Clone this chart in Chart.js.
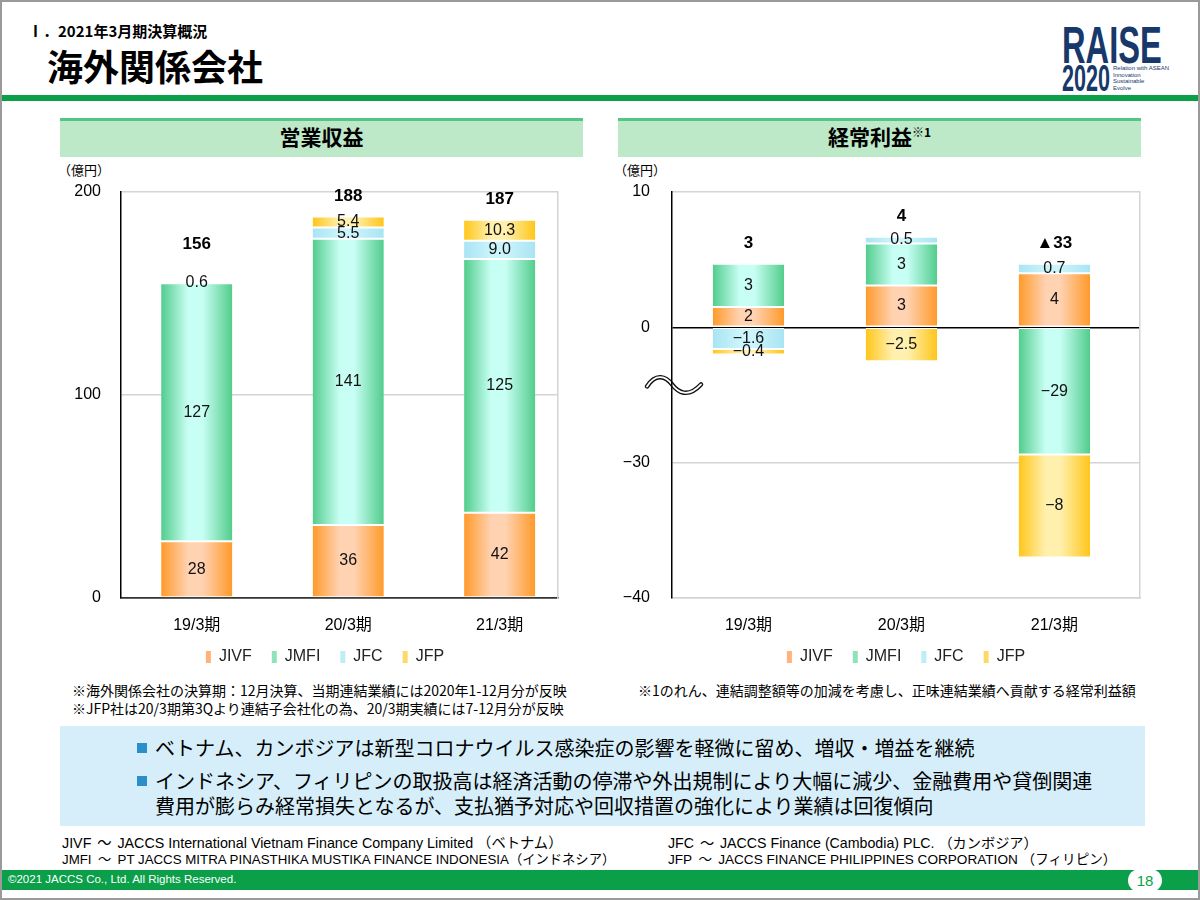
<!DOCTYPE html>
<html lang="ja">
<head>
<meta charset="utf-8">
<script src="https://cdn.jsdelivr.net/npm/chart.js@4.4.1/dist/chart.umd.min.js"></script>
<style>
  body { margin: 0; background: #fff; }
  #slide { position: relative; width: 1200px; height: 900px; overflow: hidden; background: #fff;
           font-family: "Liberation Sans", "Noto Sans CJK JP", sans-serif; color: #000; }
  .t { position: absolute; white-space: nowrap; line-height: 1; }
  .jp { font-family: "Noto Sans CJK JP", sans-serif; }
  #frame { position: absolute; left: 0; top: 0; width: 1200px; height: 900px; box-sizing: border-box;
           border: 2px solid #9a9a9a; pointer-events: none; z-index: 10; }
  .head { position: absolute; top: 118px; width: 523px; height: 36px; background: #bde9c9;
          border-top: 3px solid #53c587; text-align: center; line-height: 36px;
          font: bold 21px "Noto Sans CJK JP", sans-serif; }
  .head sup { font-size: 12px; vertical-align: 8px; line-height: 0; }
  .box { position: absolute; }
  .bul { position: absolute; width: 10px; height: 10px; background: #2a8fc8; left: 137px; }
  .co span { display: inline-block; width: 26px; text-align: center; }
</style>
</head>
<body>
<div id="slide">
  <div class="t jp" style="left:28px;top:23px;font-size:15px;font-weight:bold;">Ⅰ．2021年3月期決算概況</div>
  <div class="t jp" style="left:47px;top:47px;font-size:36px;font-weight:bold;">海外関係会社</div>

  <!-- logo -->
  <div class="t" style="left:1062px;top:20px;font-size:51px;font-weight:bold;color:#17386a;transform:scaleX(0.64);transform-origin:0 0;">RAISE</div>
  <div class="t" style="left:1062px;top:61px;font-size:36px;font-weight:bold;color:#17386a;transform:scaleX(0.6);transform-origin:0 0;">2020</div>
  <div class="t" style="left:1113px;top:65px;font-size:6px;line-height:6.5px;color:#17386a;">Relation with ASEAN<br>Innovation<br>Sustainable<br>Evolve</div>

  <div class="box" style="left:0;top:95px;width:1200px;height:6px;background:#0a9f48;"></div>

  <div class="head" style="left:60px;">営業収益</div>
  <div class="head" style="left:618px;">経常利益<sup>※1</sup></div>

  <div class="t jp" style="left:58px;top:163px;font-size:13px;">（億円）</div>
  <div class="t jp" style="left:614px;top:163px;font-size:13px;">（億円）</div>

  <canvas id="revChart" width="530" height="520" style="position:absolute;left:60px;top:160px;"></canvas>
  <canvas id="profitChart" width="572" height="520" style="position:absolute;left:620px;top:160px;"></canvas>

  <div class="t jp" style="left:72px;top:683px;font-size:14px;">※海外関係会社の決算期：12月決算、当期連結業績には2020年1-12月分が反映</div>
  <div class="t jp" style="left:72px;top:701px;font-size:14px;">※JFP社は20/3期第3Qより連結子会社化の為、20/3期実績には7-12月分が反映</div>
  <div class="t jp" style="left:638px;top:683px;font-size:14px;">※1のれん、連結調整額等の加減を考慮し、正味連結業績へ貢献する経常利益額</div>

  <div class="box" style="left:60px;top:726px;width:1085px;height:100px;background:#d5eef9;"></div>
  <div class="bul" style="top:743px;"></div>
  <div class="bul" style="top:776px;"></div>
  <div class="t jp" style="left:155px;top:738px;font-size:20px;">ベトナム、カンボジアは新型コロナウイルス感染症の影響を軽微に留め、増収・増益を継続</div>
  <div class="t jp" style="left:155px;top:771px;font-size:20px;">インドネシア、フィリピンの取扱高は経済活動の停滞や外出規制により大幅に減少、金融費用や貸倒関連</div>
  <div class="t jp" style="left:155px;top:796px;font-size:20px;">費用が膨らみ経常損失となるが、支払猶予対応や回収措置の強化により業績は回復傾向</div>

  <div class="t co" style="left:62px;top:836px;font-size:14.3px;">JIVF<span>～</span>JACCS International Vietnam Finance Company Limited （ベトナム）</div>
  <div class="t co" style="left:62px;top:853px;font-size:13.3px;">JMFI<span>～</span>PT JACCS MITRA PINASTHIKA MUSTIKA FINANCE INDONESIA（インドネシア）</div>
  <div class="t co" style="left:668px;top:836px;font-size:14.2px;">JFC<span>～</span>JACCS Finance (Cambodia) PLC. （カンボジア）</div>
  <div class="t co" style="left:668px;top:853px;font-size:13.6px;">JFP<span>～</span>JACCS FINANCE PHILIPPINES CORPORATION （フィリピン）</div>

  <div class="box" style="left:0;top:870px;width:1200px;height:20px;background:#0a9f48;"></div>
  <div class="t" style="left:8px;top:874px;font-size:11.5px;color:#fff;">©2021 JACCS Co., Ltd. All Rights Reserved.</div>
  <div class="box" style="left:1128px;top:869px;width:34px;height:23px;border-radius:12px;background:#fff;"></div>
  <div class="t" style="left:1128px;top:873px;width:34px;text-align:center;font-size:15px;color:#0a9f48;">18</div>

  <div id="frame"></div>
</div>

<script>
// ---- データ ----
const PERIODS = ['19/3期', '20/3期', '21/3期'];
const SERIES = ['JIVF', 'JMFI', 'JFC', 'JFP'];

// 営業収益（億円）
const REV_JIVF = [28, 36, 42];
const REV_JMFI = [127, 141, 125];
const REV_JFC  = [0.6, 5.5, 9.0];
const REV_JFP  = [0, 5.4, 10.3];
const REV_LABELS = [
  ['28', '36', '42'],
  ['127', '141', '125'],
  ['0.6', '5.5', '9.0'],
  ['', '5.4', '10.3']
];
const REV_TOTALS = [156, 188, 187];
const REV_TICKS = [0, 100, 200];

// 経常利益（億円）
const OP_JIVF = [1.5, 3.1, 4.0];
const OP_JMFI = [3.2, 3.1, -29.4];
const OP_JFC  = [-1.6, 0.5, 0.7];
const OP_JFP  = [-0.4, -2.5, -7.6];
const OP_LABELS = [
  ['2', '3', '4'],
  ['3', '3', '−29'],
  ['−1.6', '0.5', '0.7'],
  ['−0.4', '−2.5', '−8']
];
const OP_TOTALS = [3, 4, -33];
const OP_TICKS = [-40, -30, 0, 10];
// 縦軸の省略区間（-4 ～ -24 を詰める）
const BREAK_FROM = -4;
const BREAK_TO = -24;

// ---- 見た目 ----
const FONT = '"Liberation Sans", "Noto Sans CJK JP", sans-serif';
const FILLS = [
  { edge: '#ff9a2a', mid: '#ffd2b2', legend: '#ffb27a' },
  { edge: '#52cc8c', mid: '#c8fff4', legend: '#8fe3bb' },
  { edge: '#a9e4f3', mid: '#cbf4fb', legend: '#bdeef8' },
  { edge: '#ffc61a', mid: '#fff0ae', legend: '#ffd966' }
];

function numText(v) { return v < 0 ? '−' + Math.abs(v) : String(v); }
function totalText(v) { return v < 0 ? '▲' + Math.abs(v) : String(v); }

// 棒の横グラデーション
function barFill(f, barPct) {
  return function (c) {
    const chart = c.chart;
    const xs = chart.scales.x;
    if (!chart.chartArea || !xs || c.dataIndex === undefined) return f.edge;
    const cx = xs.getPixelForValue(c.dataIndex);
    const half = (xs.getPixelForValue(1) - xs.getPixelForValue(0)) * barPct / 2;
    const g = chart.ctx.createLinearGradient(cx - half, 0, cx + half, 0);
    g.addColorStop(0, f.edge);
    g.addColorStop(0.38, f.mid);
    g.addColorStop(0.58, f.mid);
    g.addColorStop(1, f.edge);
    return g;
  };
}

function makeDatasets(rows, labels, barPct) {
  return rows.map(function (data, i) {
    return {
      label: SERIES[i],
      data: data,
      segLabels: labels[i],
      legendColor: FILLS[i].legend,
      backgroundColor: barFill(FILLS[i], barPct),
      borderColor: '#ffffff',
      borderWidth: { top: 1, bottom: 1, left: 0, right: 0 },
      borderSkipped: false,
      barPercentage: barPct,
      categoryPercentage: 1
    };
  });
}

// 凡例の高さを固定し、項目を少し上に寄せる
const fixedLegend = {
  id: 'fixedLegend',
  beforeInit(chart) {
    const fit = chart.legend.fit;
    chart.legend.fit = function () { fit.call(this); this.height = 42; };
  },
  afterLayout(chart) {
    chart.legend.top -= 9;
    chart.legend.bottom -= 9;
  }
};

// 各セグメントの数値と合計
const segmentLabels = {
  id: 'segmentLabels',
  afterDatasetsDraw(chart, args, opts) {
    const ctx = chart.ctx;
    ctx.save();
    ctx.textAlign = 'center';
    ctx.textBaseline = 'middle';
    ctx.fillStyle = '#111';
    ctx.font = '16px ' + FONT;
    const tops = [];
    chart.data.datasets.forEach(function (ds, di) {
      chart.getDatasetMeta(di).data.forEach(function (bar, i) {
        const top = Math.min(bar.y, bar.base);
        const mid = (bar.y + bar.base) / 2;
        const h = Math.abs(bar.y - bar.base);
        if (ds.data[i] !== 0 && (tops[i] === undefined || top < tops[i].y)) {
          // 薄い区分はラベルが棒の上にはみ出すので、合計をその分上げる
          tops[i] = { y: top, label: ds.segLabels[i] && h < 6 ? mid : null };
        }
        const txt = ds.segLabels[i];
        if (txt) ctx.fillText(txt, bar.x, mid);
      });
    });
    ctx.font = 'bold 17px ' + FONT;
    ctx.fillStyle = '#000';
    const meta = chart.getDatasetMeta(0);
    opts.totals.forEach(function (t, i) {
      let y = tops[i].y - 20;
      if (tops[i].label !== null) y = Math.min(y, tops[i].label - 38);
      ctx.fillText(totalText(t), meta.data[i].x, y);
    });
    ctx.restore();
  }
};

// 省略記号（波線）
const breakMark = {
  id: 'breakMark',
  beforeDraw(chart) {
    const ys = chart.scales.y;
    if (!ys) return;
    const ctx = chart.ctx;
    const cx = chart.chartArea.left;
    const cy = ys.getPixelForValue(BREAK_FROM) + 3;
    function wave() {
      ctx.beginPath();
      ctx.moveTo(cx - 25, cy + 2);
      ctx.bezierCurveTo(cx - 16, cy - 12, cx - 6, cy - 8, cx, cy);
      ctx.bezierCurveTo(cx + 6, cy + 8, cx + 16, cy + 14, cx + 29, cy);
      ctx.stroke();
    }
    ctx.save();
    ctx.lineCap = 'round';
    ctx.strokeStyle = '#111'; ctx.lineWidth = 4.5; wave();
    ctx.strokeStyle = '#fff'; ctx.lineWidth = 1.8; wave();
    ctx.restore();
  }
};

// 波線で区間を詰めた縦軸
const LinearBase = Chart.LinearScale || Chart.registry.getScale('linear');
class BrokenLinearScale extends LinearBase {
  toAxis(v) {
    if (v >= BREAK_FROM) return v;
    if (v <= BREAK_TO) return v + (BREAK_FROM - BREAK_TO);
    return BREAK_FROM;
  }
  getPixelForValue(value) {
    if (value === null || value === undefined) return NaN;
    const lo = this.toAxis(this.min), hi = this.toAxis(this.max);
    return this.getPixelForDecimal((this.toAxis(value) - lo) / (hi - lo));
  }
  getValueForPixel(pixel) {
    const lo = this.toAxis(this.min), hi = this.toAxis(this.max);
    const a = lo + this.getDecimalForPixel(pixel) * (hi - lo);
    return a >= BREAK_FROM ? a : a - (BREAK_FROM - BREAK_TO);
  }
}
BrokenLinearScale.id = 'brokenLinear';
BrokenLinearScale.defaults = LinearBase.defaults;
Chart.register(BrokenLinearScale);

// 区分の幅を枠と別に決められる横軸（span = 枠内に入る区分の数）
const CategoryBase = Chart.CategoryScale || Chart.registry.getScale('category');
class SpacedCategoryScale extends CategoryBase {
  buildTicks() {
    const ticks = super.buildTicks();
    if (this.options.span) this._valueRange = this.options.span;
    return ticks;
  }
}
SpacedCategoryScale.id = 'spacedCategory';
SpacedCategoryScale.defaults = CategoryBase.defaults;
Chart.register(SpacedCategoryScale);

function baseOptions(cfg) {
  return {
    responsive: false,
    animation: false,
    events: [],
    layout: { padding: { top: 32, left: 0, right: 0, bottom: 0 } },
    plugins: {
      tooltip: { enabled: false },
      segmentLabels: { totals: cfg.totals },
      legend: {
        position: 'bottom',
        labels: {
          boxWidth: 5, boxHeight: 12, padding: 20, color: '#222',
          font: { size: 16, family: FONT },
          generateLabels: function (chart) {
            return chart.data.datasets.map(function (ds, i) {
              return { text: ds.label, fillStyle: ds.legendColor, strokeStyle: ds.legendColor,
                       lineWidth: 0, hidden: false, datasetIndex: i, fontColor: '#222' };
            });
          }
        }
      }
    },
    scales: {
      x: {
        type: 'spacedCategory',
        span: cfg.span,
        offset: true,
        stacked: true,
        grid: { display: false },
        border: { display: true, color: cfg.bottomColor, width: 1.5 },
        ticks: { color: '#000', font: { size: 16, family: FONT }, padding: 10 },
        afterFit: function (s) { s.height = 40; }
      },
      y: {
        type: cfg.yType,
        stacked: true,
        min: cfg.min, max: cfg.max,
        afterBuildTicks: function (s) { s.ticks = cfg.ticks.map(function (v) { return { value: v }; }); },
        afterFit: function (s) { s.width = cfg.yWidth; },
        grid: {
          drawTicks: false,
          color: function (c) { return c.tick && c.tick.value === 0 ? cfg.zeroColor : '#d4d4d4'; },
          lineWidth: 1.5
        },
        border: { color: '#000', width: 1.5 },
        ticks: { color: '#000', font: { size: 16, family: FONT }, padding: cfg.tickPad,
                 callback: function (v) { return numText(v); } }
      },
      yr: {
        position: 'right',
        display: true,
        grid: { drawOnChartArea: false, drawTicks: false },
        border: { color: '#d4d4d4', width: 1.5 },
        ticks: { display: false },
        afterFit: function (s) { s.width = cfg.rightWidth; }
      }
    }
  };
}

new Chart(document.getElementById('revChart'), {
  type: 'bar',
  data: {
    labels: PERIODS,
    datasets: makeDatasets([REV_JIVF, REV_JMFI, REV_JFC, REV_JFP], REV_LABELS, 0.47)
  },
  options: baseOptions({
    totals: REV_TOTALS, yType: 'linear', min: 0, max: 200, ticks: REV_TICKS, span: 2.885,
    yWidth: 61, rightWidth: 32, tickPad: 20, zeroColor: '#333', bottomColor: '#333'
  }),
  plugins: [fixedLegend, segmentLabels]
});

new Chart(document.getElementById('profitChart'), {
  type: 'bar',
  data: {
    labels: PERIODS,
    datasets: makeDatasets([OP_JIVF, OP_JMFI, OP_JFC, OP_JFP], OP_LABELS, 0.467)
  },
  options: baseOptions({
    totals: OP_TOTALS, yType: 'brokenLinear', min: -40, max: 10, ticks: OP_TICKS, span: 3.06,
    yWidth: 52, rightWidth: 52, tickPad: 22, zeroColor: '#000', bottomColor: '#d4d4d4'
  }),
  plugins: [fixedLegend, segmentLabels, breakMark]
});
</script>
</body>
</html>
